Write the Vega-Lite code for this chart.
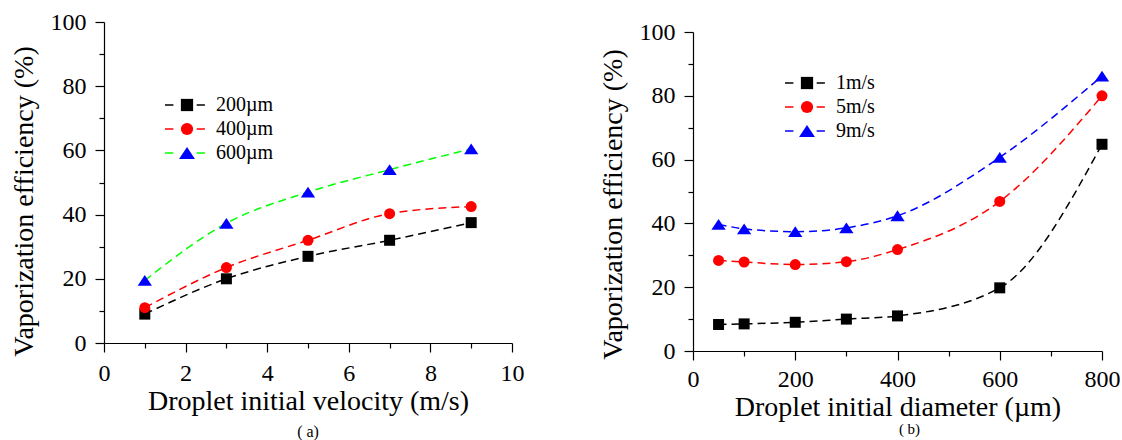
{
  "$schema": "https://vega.github.io/schema/vega-lite/v6.json",
  "background": "white",
  "padding": {"left": 10, "top": 10, "right": 0, "bottom": 0},
  "spacing": 75,
  "config": {
    "font": "Liberation Serif",
    "view": {"stroke": null},
    "axis": {"domainColor": "#000000", "tickColor": "#000000", "labelColor": "#000000", "titleColor": "#000000", "labelFont": "Liberation Serif", "titleFont": "Liberation Serif", "labelFontSize": 24, "titleFontSize": 28, "titleFontWeight": "normal", "grid": false, "tickSize": 9, "domainWidth": 1.2, "tickWidth": 1.2, "labelPadding": 9, "labelFlush": false, "labelOverlap": false},
    "axisX": {"titlePadding": 2},
    "axisY": {"titlePadding": 12},
    "legend": {"labelFont": "Liberation Serif", "labelFontSize": 20, "labelColor": "#000000", "padding": 0, "rowPadding": 4, "labelOffset": 19},
    "title": {"font": "Liberation Serif", "fontSize": 16, "fontWeight": "normal", "color": "#000000"}
  },
  "hconcat": [
    {
      "width": 408,
      "height": 321,
      "title": {"text": "( a)", "orient": "bottom", "anchor": "middle", "offset": 9},
      "data": {"values": [
        {"v": 1, "eff": 9.0, "series": "200µm", "m": "200µm"},
        {"v": 3, "eff": 20.0, "series": "200µm", "m": "200µm"},
        {"v": 5, "eff": 27.0, "series": "200µm", "m": "200µm"},
        {"v": 7, "eff": 32.0, "series": "200µm", "m": "200µm"},
        {"v": 9, "eff": 37.5, "series": "200µm", "m": "200µm"},
        {"v": 1, "eff": 11.0, "series": "400µm", "m": "400µm"},
        {"v": 3, "eff": 23.5, "series": "400µm", "m": "400µm"},
        {"v": 5, "eff": 32.0, "series": "400µm", "m": "400µm"},
        {"v": 7, "eff": 40.3, "series": "400µm", "m": "400µm"},
        {"v": 9, "eff": 42.5, "series": "400µm", "m": "400µm"},
        {"v": 1, "eff": 19.5, "series": "600µm", "m": "600µm"},
        {"v": 3, "eff": 37.3, "series": "600µm", "m": "600µm"},
        {"v": 5, "eff": 47.0, "series": "600µm", "m": "600µm"},
        {"v": 7, "eff": 54.0, "series": "600µm", "m": "600µm"},
        {"v": 9, "eff": 60.5, "series": "600µm", "m": "600µm"}
      ]},
      "layer": [
        {
          "mark": {"type": "line", "interpolate": "monotone", "strokeDash": [8, 5], "strokeWidth": 1.5},
          "encoding": {
            "x": {"field": "v", "type": "quantitative", "scale": {"domain": [0, 10], "nice": false, "zero": false}, "axis": {"values": [0, 2, 4, 6, 8, 10], "title": "Droplet initial velocity (m/s)", "orient": "bottom"}},
            "y": {"field": "eff", "type": "quantitative", "scale": {"domain": [0, 100], "nice": false}, "axis": {"values": [0, 20, 40, 60, 80, 100], "title": "Vaporization efficiency (%)", "orient": "left", "titleY": 179}},
            "color": {"field": "series", "type": "nominal", "scale": {"range": ["#000000", "#ff0000", "#00ff00"]},
              "legend": {"orient": "none", "legendX": 73, "legendY": 73, "title": null, "symbolSize": 160, "symbolType": "M-3.48,0H-2.15M1.53,0H2.83", "symbolStrokeWidth": 1.5, "labelOpacity": 0, "encode": {"symbols": {"update": {"strokeDash": {"value": [1, 0]}}}}}}
          }
        },
        {
          "mark": {"type": "point", "filled": true, "opacity": 1, "strokeWidth": 0, "size": 121},
          "encoding": {
            "x": {"field": "v", "type": "quantitative", "axis": {"values": [1, 3, 5, 7, 9], "labels": false, "domain": false, "tickSize": 5, "title": null, "orient": "bottom"}},
            "y": {"field": "eff", "type": "quantitative", "axis": {"values": [10, 30, 50, 70, 90], "labels": false, "domain": false, "tickSize": 5, "title": null, "orient": "left"}},
            "fill": {"field": "m", "type": "nominal", "scale": {"range": ["#000000", "#ff0000", "#0000ff"]},
              "legend": {"orient": "none", "legendX": 73, "legendY": 73, "title": null, "symbolSize": 150, "symbolStrokeWidth": 0}},
            "shape": {"field": "m", "type": "nominal", "scale": {"range": ["square", "circle", "M0,-0.98L1.3,0.98L-1.3,0.98Z"]},
              "legend": {"orient": "none", "legendX": 73, "legendY": 73, "title": null, "symbolSize": 150, "symbolStrokeWidth": 0}}
          }
        }
      ],
      "resolve": {"axis": {"x": "independent", "y": "independent"}}
    },
    {
      "width": 409,
      "height": 329,
      "title": {"text": "( b)", "orient": "bottom", "anchor": "middle", "offset": 1, "fontSize": 15, "dx": 12},
      "data": {"values": [
        {"d": 50, "eff": 8.3, "series": "1m/s", "m": "1m/s"},
        {"d": 100, "eff": 8.5, "series": "1m/s", "m": "1m/s"},
        {"d": 200, "eff": 9.0, "series": "1m/s", "m": "1m/s"},
        {"d": 300, "eff": 10.0, "series": "1m/s", "m": "1m/s"},
        {"d": 400, "eff": 11.0, "series": "1m/s", "m": "1m/s"},
        {"d": 600, "eff": 19.8, "series": "1m/s", "m": "1m/s"},
        {"d": 800, "eff": 64.8, "series": "1m/s", "m": "1m/s"},
        {"d": 50, "eff": 28.4, "series": "5m/s", "m": "5m/s"},
        {"d": 100, "eff": 27.9, "series": "5m/s", "m": "5m/s"},
        {"d": 200, "eff": 27.1, "series": "5m/s", "m": "5m/s"},
        {"d": 300, "eff": 28.0, "series": "5m/s", "m": "5m/s"},
        {"d": 400, "eff": 31.8, "series": "5m/s", "m": "5m/s"},
        {"d": 600, "eff": 46.9, "series": "5m/s", "m": "5m/s"},
        {"d": 800, "eff": 80.0, "series": "5m/s", "m": "5m/s"},
        {"d": 50, "eff": 39.7, "series": "9m/s", "m": "9m/s"},
        {"d": 100, "eff": 38.3, "series": "9m/s", "m": "9m/s"},
        {"d": 200, "eff": 37.4, "series": "9m/s", "m": "9m/s"},
        {"d": 300, "eff": 38.6, "series": "9m/s", "m": "9m/s"},
        {"d": 400, "eff": 42.4, "series": "9m/s", "m": "9m/s"},
        {"d": 600, "eff": 60.7, "series": "9m/s", "m": "9m/s"},
        {"d": 800, "eff": 86.2, "series": "9m/s", "m": "9m/s"}
      ]},
      "layer": [
        {
          "mark": {"type": "line", "interpolate": "monotone", "strokeDash": [8, 5], "strokeWidth": 1.5},
          "encoding": {
            "x": {"field": "d", "type": "quantitative", "scale": {"domain": [0, 800], "nice": false, "zero": false}, "axis": {"values": [0, 200, 400, 600, 800], "title": "Droplet initial diameter (µm)", "orient": "bottom", "labelPadding": 7, "titlePadding": 2}},
            "y": {"field": "eff", "type": "quantitative", "scale": {"domain": [0, 100], "nice": false, "range": [329, 10]}, "axis": {"values": [0, 20, 40, 60, 80, 100], "title": "Vaporization efficiency (%)", "orient": "left", "titleY": 182}},
            "color": {"field": "series", "type": "nominal", "scale": {"range": ["#000000", "#ff0000", "#0000ff"]},
              "legend": {"orient": "none", "legendX": 104, "legendY": 51, "title": null, "symbolSize": 160, "symbolType": "M-3.48,0H-2.15M1.53,0H2.83", "symbolStrokeWidth": 1.5, "labelOpacity": 0, "encode": {"symbols": {"update": {"strokeDash": {"value": [1, 0]}}}}}}
          }
        },
        {
          "mark": {"type": "point", "filled": true, "opacity": 1, "strokeWidth": 0, "size": 121},
          "encoding": {
            "x": {"field": "d", "type": "quantitative", "axis": {"values": [100, 300, 500, 700], "labels": false, "domain": false, "tickSize": 5, "title": null, "orient": "bottom"}},
            "y": {"field": "eff", "type": "quantitative", "axis": {"values": [10, 30, 50, 70, 90], "labels": false, "domain": false, "tickSize": 5, "title": null, "orient": "left"}},
            "fill": {"field": "m", "type": "nominal", "scale": {"range": ["#000000", "#ff0000", "#0000ff"]},
              "legend": {"orient": "none", "legendX": 104, "legendY": 51, "title": null, "symbolSize": 150, "symbolStrokeWidth": 0}},
            "shape": {"field": "m", "type": "nominal", "scale": {"range": ["square", "circle", "M0,-0.98L1.3,0.98L-1.3,0.98Z"]},
              "legend": {"orient": "none", "legendX": 104, "legendY": 51, "title": null, "symbolSize": 150, "symbolStrokeWidth": 0}}
          }
        }
      ],
      "resolve": {"axis": {"x": "independent", "y": "independent"}}
    }
  ],
  "resolve": {"scale": {"x": "independent", "y": "independent", "color": "independent", "fill": "independent", "shape": "independent"}, "legend": {"color": "independent", "fill": "independent", "shape": "independent"}}
}
